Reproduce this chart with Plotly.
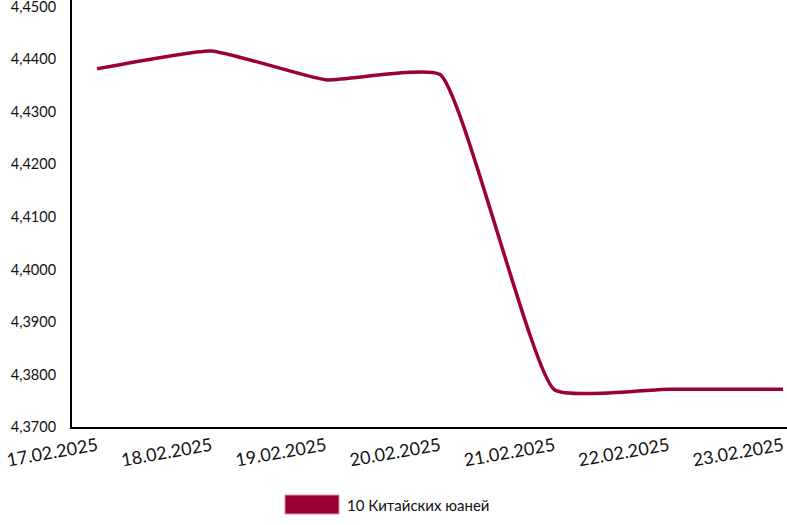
import plotly.graph_objects as go

dates = ["17.02.2025", "18.02.2025", "19.02.2025", "20.02.2025",
         "21.02.2025", "22.02.2025", "23.02.2025"]
values = [4.4382, 4.4416, 4.4361, 4.4371, 4.3771, 4.3772, 4.3772]
series_name = "10 Китайских юаней"
y_ticks = [4.37, 4.38, 4.39, 4.40, 4.41, 4.42, 4.43, 4.44, 4.45]

color = "#9B0036"
font = "Lato, 'DejaVu Sans', sans-serif"

fig = go.Figure()
fig.add_trace(go.Scatter(
    x=list(range(len(dates))), y=values, mode="lines", name=series_name,
    line=dict(color=color, width=3.5, shape="spline", smoothing=0.4),
    showlegend=False,
))

fig.update_layout(
    width=787, height=525,
    margin=dict(l=72, r=0, t=0, b=98, autoexpand=False),
    paper_bgcolor="white", plot_bgcolor="white",
    separators=", ",
    font=dict(family=font, color="#111"),
    xaxis=dict(
        range=[-0.22, 6.035], tickmode="array",
        tickvals=list(range(len(dates))), ticktext=dates,
        tickangle=-10, tickfont=dict(size=18, family=font, color="#111"),
        showgrid=False, zeroline=False, showline=True, linecolor="black",
        linewidth=2, ticks="", fixedrange=True, automargin=False,
    ),
    yaxis=dict(
        range=[4.37, 4.4513], tickvals=y_ticks, tickformat=".4f",
        tickfont=dict(size=14.5, family=font, color="#111"),
        showgrid=False, zeroline=False, showline=True, linecolor="black",
        linewidth=2, ticks="", ticklabelstandoff=11, automargin=False,
        ticklabeloverflow="allow",
    ),
    shapes=[dict(type="rect", xref="paper", yref="paper",
                 x0=(285 - 72) / 715, x1=(339 - 72) / 715,
                 y0=-(495 - 427) / 427, y1=-(514 - 427) / 427,
                 fillcolor=color, line=dict(color="#d98aa5", width=1))],
    annotations=[dict(text=series_name, xref="paper", yref="paper",
                      x=(345 - 72) / 715, y=-(505 - 427) / 427,
                      xanchor="left", yanchor="middle", showarrow=False,
                      font=dict(size=15, family=font, color="#111"))],
)

fig.write_html("out.html", config={"displayModeBar": False},
               post_script="document.body.style.margin='0';document.body.style.overflow='hidden';")
